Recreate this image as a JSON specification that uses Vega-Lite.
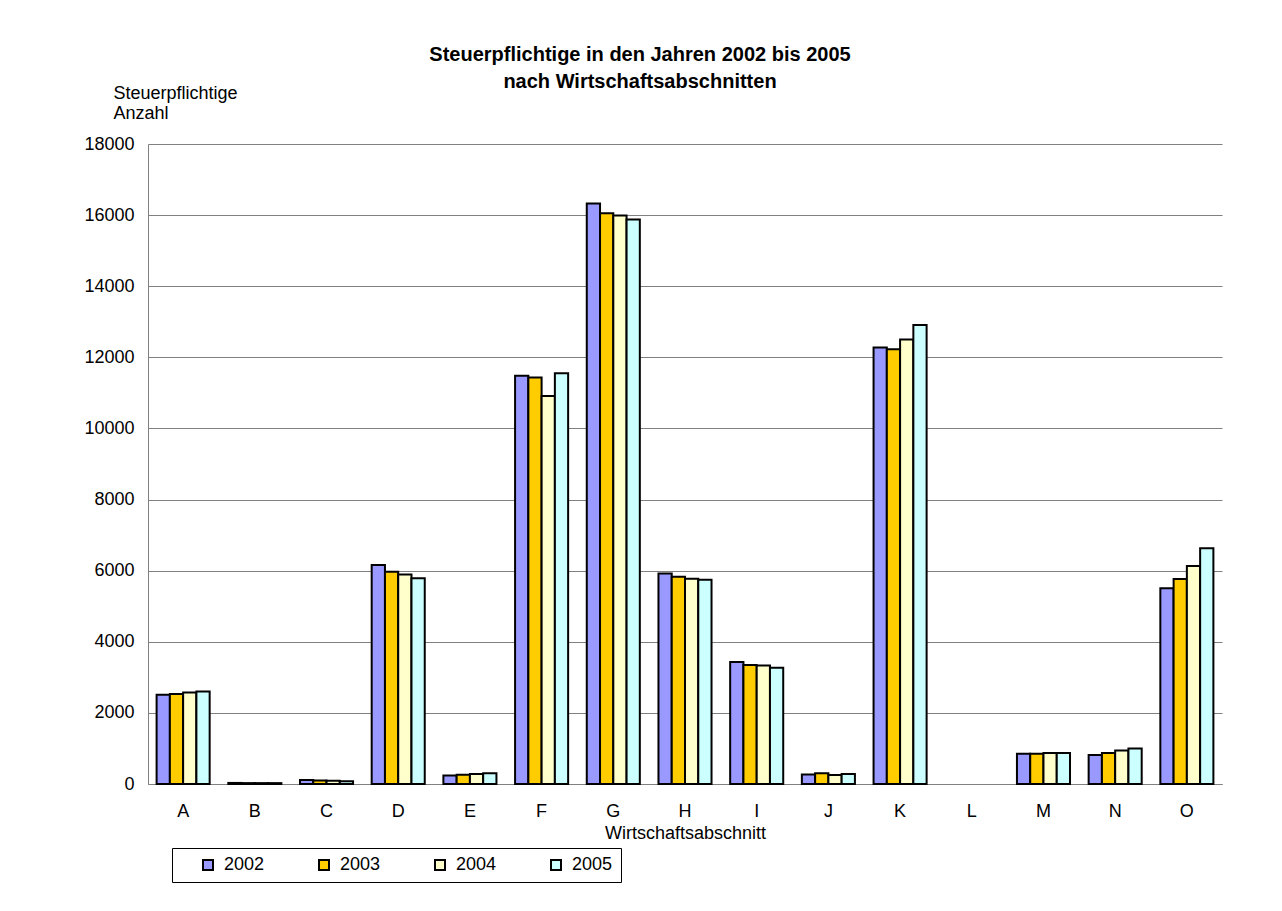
{
  "$schema": "https://vega.github.io/schema/vega-lite/v6.json",
  "width": 1074,
  "height": 640,
  "autosize": {"type": "none"},
  "padding": {"left": 148, "top": 144, "right": 60, "bottom": 127},
  "background": "white",
  "title": {
    "text": ["Steuerpflichtige in den Jahren 2002 bis 2005", "nach Wirtschaftsabschnitten"],
    "font": "Liberation Sans",
    "fontSize": 20,
    "fontWeight": "bold",
    "lineHeight": 27,
    "color": "black",
    "anchor": "middle",
    "dx": -45,
    "dy": 38,
    "offset": 30
  },
  "data": {
    "values": [
      {"k": "A", "year": "2002", "n": 2510}, {"k": "A", "year": "2003", "n": 2530}, {"k": "A", "year": "2004", "n": 2570}, {"k": "A", "year": "2005", "n": 2600},
      {"k": "B", "year": "2002", "n": 30}, {"k": "B", "year": "2003", "n": 25}, {"k": "B", "year": "2004", "n": 25}, {"k": "B", "year": "2005", "n": 25},
      {"k": "C", "year": "2002", "n": 110}, {"k": "C", "year": "2003", "n": 100}, {"k": "C", "year": "2004", "n": 90}, {"k": "C", "year": "2005", "n": 80},
      {"k": "D", "year": "2002", "n": 6160}, {"k": "D", "year": "2003", "n": 5970}, {"k": "D", "year": "2004", "n": 5895}, {"k": "D", "year": "2005", "n": 5785},
      {"k": "E", "year": "2002", "n": 240}, {"k": "E", "year": "2003", "n": 260}, {"k": "E", "year": "2004", "n": 280}, {"k": "E", "year": "2005", "n": 300},
      {"k": "F", "year": "2002", "n": 11480}, {"k": "F", "year": "2003", "n": 11430}, {"k": "F", "year": "2004", "n": 10910}, {"k": "F", "year": "2005", "n": 11550},
      {"k": "G", "year": "2002", "n": 16330}, {"k": "G", "year": "2003", "n": 16050}, {"k": "G", "year": "2004", "n": 15990}, {"k": "G", "year": "2005", "n": 15880},
      {"k": "H", "year": "2002", "n": 5920}, {"k": "H", "year": "2003", "n": 5830}, {"k": "H", "year": "2004", "n": 5775}, {"k": "H", "year": "2005", "n": 5745},
      {"k": "I", "year": "2002", "n": 3430}, {"k": "I", "year": "2003", "n": 3350}, {"k": "I", "year": "2004", "n": 3330}, {"k": "I", "year": "2005", "n": 3270},
      {"k": "J", "year": "2002", "n": 270}, {"k": "J", "year": "2003", "n": 300}, {"k": "J", "year": "2004", "n": 250}, {"k": "J", "year": "2005", "n": 280},
      {"k": "K", "year": "2002", "n": 12280}, {"k": "K", "year": "2003", "n": 12225}, {"k": "K", "year": "2004", "n": 12505}, {"k": "K", "year": "2005", "n": 12910},
      {"k": "M", "year": "2002", "n": 850}, {"k": "M", "year": "2003", "n": 850}, {"k": "M", "year": "2004", "n": 870}, {"k": "M", "year": "2005", "n": 870},
      {"k": "N", "year": "2002", "n": 815}, {"k": "N", "year": "2003", "n": 870}, {"k": "N", "year": "2004", "n": 940}, {"k": "N", "year": "2005", "n": 1000},
      {"k": "O", "year": "2002", "n": 5505}, {"k": "O", "year": "2003", "n": 5765}, {"k": "O", "year": "2004", "n": 6130}, {"k": "O", "year": "2005", "n": 6630}
    ]
  },
  "mark": {"type": "bar", "stroke": "black", "strokeWidth": 2, "opacity": 1},
  "encoding": {
    "x": {
      "field": "k",
      "type": "nominal",
      "scale": {"domain": ["A","B","C","D","E","F","G","H","I","J","K","L","M","N","O"], "paddingInner": 0.26, "paddingOuter": 0.12},
      "axis": {
        "title": "Wirtschaftsabschnitt",
        "labelAngle": 0,
        "labelPadding": 18,
        "ticks": false,
        "domainColor": "#808080",
        "titlePadding": 4,
        "titleFontWeight": "normal"
      }
    },
    "xOffset": {"field": "year", "type": "nominal", "sort": ["2002","2003","2004","2005"]},
    "y": {
      "field": "n",
      "type": "quantitative",
      "scale": {"domain": [0, 18000], "nice": false},
      "axis": {
        "title": ["Steuerpflichtige", "Anzahl"],
        "titleAngle": 0,
        "titleAlign": "left",
        "titleBaseline": "alphabetic",
        "titleX": -35,
        "titleY": -46,
        "titleFontWeight": "normal",
        "values": [0, 2000, 4000, 6000, 8000, 10000, 12000, 14000, 16000, 18000],
        "format": "d",
        "ticks": false,
        "labelPadding": 14,
        "domainColor": "#808080",
        "gridColor": "#808080",
        "gridWidth": 1
      }
    },
    "color": {
      "field": "year",
      "type": "nominal",
      "scale": {"domain": ["2002","2003","2004","2005"], "range": ["#9999FF", "#FFCC00", "#FFFFCC", "#CCFFFF"]},
      "legend": {
        "title": null,
        "orient": "none",
        "direction": "horizontal",
        "legendX": 24,
        "legendY": 704,
        "strokeColor": "black",
        "padding": 8,
        "symbolOffset": 19,
        "symbolType": "square",
        "symbolSize": 100,
        "symbolStrokeColor": "black",
        "symbolStrokeWidth": 2,
        "symbolOpacity": 1,
        "labelOffset": 7,
        "columnPadding": 31,
        "labelFont": "Liberation Sans",
        "labelFontSize": 18,
        "labelColor": "black"
      }
    }
  },
  "config": {
    "font": "Liberation Sans",
    "view": {"stroke": null},
    "axis": {
      "labelFont": "Liberation Sans",
      "labelFontSize": 18,
      "labelColor": "black",
      "titleFont": "Liberation Sans",
      "titleFontSize": 18,
      "titleColor": "black",
      "grid": false
    },
    "axisY": {"grid": true}
  }
}
